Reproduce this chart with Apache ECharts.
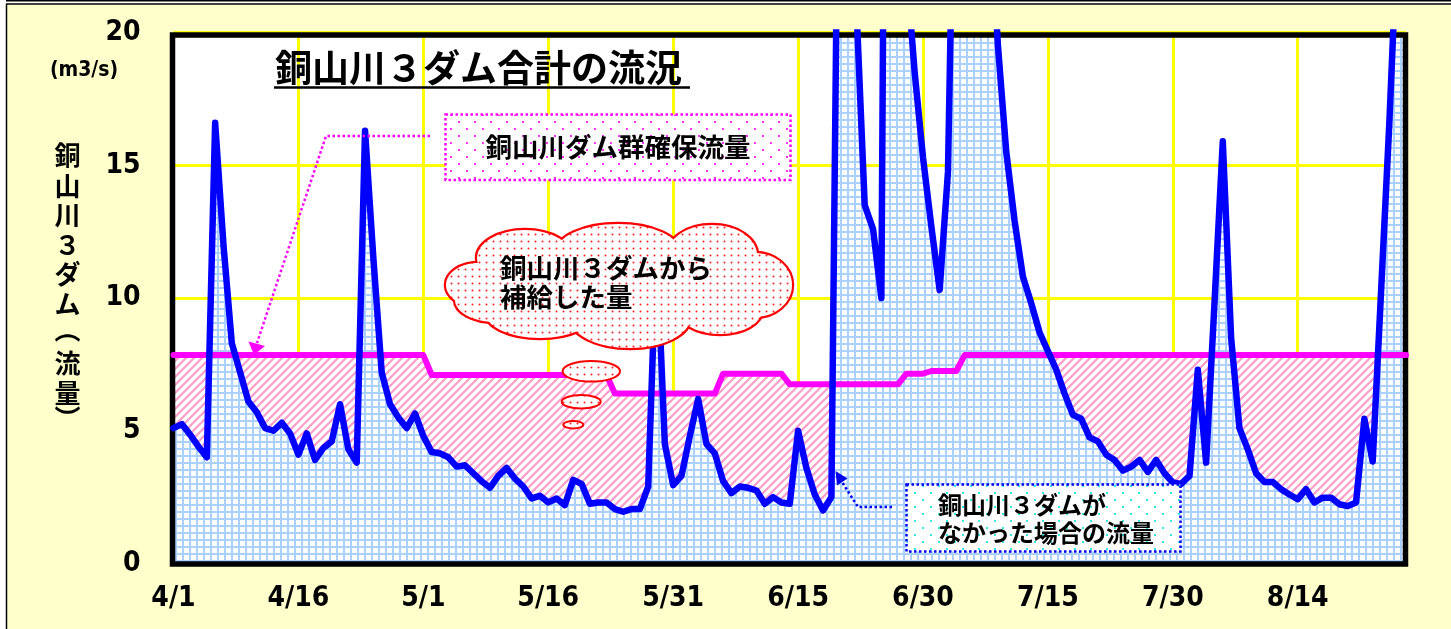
<!DOCTYPE html>
<html><head><meta charset="utf-8">
<script src="https://cdn.jsdelivr.net/npm/echarts@6/dist/echarts.min.js"></script>
<style>html,body{margin:0;padding:0;background:#fff}#c{width:1451px;height:629px}</style>
</head><body><div id="c"></div>
<script>
// ---- data ----
const monthDays = [[4, 30], [5, 31], [6, 30], [7, 31], [8, 27]];
const categories = [];
for (const [m, n] of monthDays) for (let d = 1; d <= n; d++) categories.push(m + '/' + d);
const tickLabels = ['4/1', '4/16', '5/1', '5/16', '5/31', '6/15', '6/30', '7/15', '7/30', '8/14'];
const yTicks = [0, 5, 10, 15, 20];

// 銅山川３ダムがなかった場合の流量 (m3/s), daily 4/1 - 8/27
const flowWithoutDams = [
  5.1, 5.25, 4.85, 4.4, 4.0, 16.6, 12.0, 8.3, 7.2, 6.1,
  5.7, 5.1, 5.0, 5.3, 4.9, 4.1, 4.9, 3.9, 4.35, 4.6,
  6.0, 4.3, 3.8, 16.3, 11.5, 7.2, 6.0, 5.5, 5.1, 5.65,
  4.8, 4.2, 4.15, 4.0, 3.65, 3.7, 3.4, 3.1, 2.85, 3.3,
  3.6, 3.2, 2.9, 2.45, 2.55, 2.3, 2.45, 2.2, 3.15, 3.0,
  2.25, 2.3, 2.3, 2.05, 1.95, 2.05, 2.05, 2.9, 12.0, 4.5,
  2.95, 3.3, 4.8, 6.2, 4.5, 4.15, 3.1, 2.65, 2.9, 2.85,
  2.75, 2.25, 2.5, 2.3, 2.25, 5.0, 3.6, 2.6, 2.0, 2.5,
  33, 35, 21, 13.5, 12.6, 10.0, 60, 40, 22.5, 18.5,
  15.3, 12.7, 10.3, 14.75, 32, 40, 40, 35, 25, 19.5,
  15.5, 12.9, 10.8, 9.8, 8.7, 8.0, 7.3, 6.4, 5.6, 5.45,
  4.75, 4.6, 4.1, 3.9, 3.5, 3.65, 3.9, 3.45, 3.9, 3.4,
  3.05, 3.0, 3.3, 7.3, 3.8, 9.8, 15.9, 8.5, 5.1, 4.3,
  3.4, 3.07, 3.07, 2.8, 2.6, 2.42, 2.8, 2.3, 2.48, 2.48,
  2.23, 2.16, 2.3, 5.45, 3.84, 10.2, 16.6, 24, 26
];
// 銅山川ダム群確保流量 (m3/s)
const securedFlow = [
  7.85, 7.85, 7.85, 7.85, 7.85, 7.85, 7.85, 7.85, 7.85, 7.85,
  7.85, 7.85, 7.85, 7.85, 7.85, 7.85, 7.85, 7.85, 7.85, 7.85,
  7.85, 7.85, 7.85, 7.85, 7.85, 7.85, 7.85, 7.85, 7.85, 7.85,
  7.85, 7.1, 7.1, 7.1, 7.1, 7.1, 7.1, 7.1, 7.1, 7.1,
  7.1, 7.1, 7.1, 7.1, 7.1, 7.1, 7.1, 7.1, 7.1, 7.1,
  7.1, 7.1, 7.1, 6.4, 6.4, 6.4, 6.4, 6.4, 6.4, 6.4,
  6.4, 6.4, 6.4, 6.4, 6.4, 6.4, 7.15, 7.15, 7.15, 7.15,
  7.15, 7.15, 7.15, 7.15, 6.75, 6.75, 6.75, 6.75, 6.75, 6.75,
  6.75, 6.75, 6.75, 6.75, 6.75, 6.75, 6.75, 6.75, 7.15, 7.15,
  7.15, 7.25, 7.25, 7.25, 7.25, 7.85, 7.85, 7.85, 7.85, 7.85,
  7.85, 7.85, 7.85, 7.85, 7.85, 7.85, 7.85, 7.85, 7.85, 7.85,
  7.85, 7.85, 7.85, 7.85, 7.85, 7.85, 7.85, 7.85, 7.85, 7.85,
  7.85, 7.85, 7.85, 7.85, 7.85, 7.85, 7.85, 7.85, 7.85, 7.85,
  7.85, 7.85, 7.85, 7.85, 7.85, 7.85, 7.85, 7.85, 7.85, 7.85,
  7.85, 7.85, 7.85, 7.85, 7.85, 7.85, 7.85, 7.85, 7.85
];
const titleText = '銅山川３ダム合計の流況';
const unitText = '(m3/s)';
const yNameChars = ['銅', '山', '川', '３', 'ダ', 'ム', '（', '流', '量', '）'];
const labelSecured = '銅山川ダム群確保流量';
const labelSupply = ['銅山川３ダムから', '補給した量'];
const labelNoDam = ['銅山川３ダムが', 'なかった場合の流量'];

// ---- patterns ----
function tile(w, h, draw) {
  const c = document.createElement('canvas'); c.width = w; c.height = h;
  const g = c.getContext('2d'); draw(g, w, h); return { image: c, repeat: 'repeat' };
}
const blueGrid = tile(7, 7, (g) => {
  g.fillStyle = '#fff'; g.fillRect(0, 0, 7, 7);
  g.fillStyle = '#aad0ff'; g.fillRect(0, 0, 7, 2); g.fillRect(0, 0, 2, 7);
});
const pinkHatch = tile(8, 8, (g) => {
  g.fillStyle = '#fff'; g.fillRect(0, 0, 8, 8);
  g.strokeStyle = '#ff9cc8'; g.lineWidth = 2.2;
  for (const c of [0, 8, 16]) { g.beginPath(); g.moveTo(c + 1, -1); g.lineTo(-1, c + 1); g.stroke(); }
});
function dots(w, h, color, pts, r) {
  return tile(w, h, (g) => {
    g.fillStyle = '#fff'; g.fillRect(0, 0, w, h);
    g.fillStyle = color;
    for (const [x, y] of pts) { g.beginPath(); g.arc(x, y, r, 0, Math.PI * 2); g.fill(); }
  });
}
const redDots = dots(7, 7, '#ff2020', [[3.5, 3.5]], 1.0);
const magDots = dots(16, 14, '#ff00ff', [[3, 3], [11, 10]], 1.1);
const cyanDots = dots(16, 14, '#00e0e0', [[3, 3], [11, 10]], 1.1);

const CJK = '"Noto Sans CJK JP", sans-serif';
const NUM = '"Liberation Sans Narrow", "DejaVu Sans Condensed", "Roboto Condensed", sans-serif';

function txt(text, x, y, size, align, z, extra) {
  return Object.assign({
    type: 'text', z: z || 30,
    style: { text, x, y, fill: '#000', font: 'bold ' + size + 'px ' + CJK,
      textAlign: align || 'left', textVerticalAlign: 'middle', align: align || 'left', verticalAlign: 'middle' }
  }, extra || {});
}
// glyph visual-centre offset relative to a centre/middle anchor
const measureCtx = document.createElement('canvas').getContext('2d');
function glyphOffset(ch, font) {
  measureCtx.font = font; measureCtx.textAlign = 'center'; measureCtx.textBaseline = 'middle';
  const m = measureCtx.measureText(ch);
  return [(m.actualBoundingBoxRight - m.actualBoundingBoxLeft) / 2, (m.actualBoundingBoxDescent - m.actualBoundingBoxAscent) / 2];
}

const graphics = [];
// outer frame
graphics.push({ type: 'rect', z: -10, silent: true, shape: { x: 0, y: 0, width: 1451, height: 5 }, style: { fill: '#fff' } });
graphics.push({ type: 'rect', z: -10, silent: true, shape: { x: 0, y: 0, width: 6, height: 629 }, style: { fill: '#fff' } });
graphics.push({ type: 'line', z: -9, shape: { x1: 6, y1: 0.8, x2: 1451, y2: 0.8 }, style: { stroke: '#000', lineWidth: 1.5 } });
graphics.push({ type: 'line', z: -9, shape: { x1: 6, y1: 4, x2: 1451, y2: 4 }, style: { stroke: '#000', lineWidth: 1.5 } });
graphics.push({ type: 'line', z: -9, shape: { x1: 6.5, y1: 4, x2: 6.5, y2: 629 }, style: { stroke: '#000', lineWidth: 1.5 } });
// plot border
graphics.push({ type: 'rect', z: 4, silent: true, shape: { x: 172.5, y: 35, width: 1233, height: 529 }, style: { fill: 'none', stroke: '#000', lineWidth: 5.5 } });
// title
graphics.push(txt(titleText, 275, 68, 37, 'left', 30));
graphics.push({ type: 'line', z: 30, shape: { x1: 274, y1: 87.5, x2: 690, y2: 87.5 }, style: { stroke: '#000', lineWidth: 2.5 } });
// unit + vertical axis name
graphics.push({ type: 'text', z: 30, style: { text: unitText, x: 84, y: 71, fill: '#000', font: 'bold 21px ' + NUM,
  textAlign: 'center', textVerticalAlign: 'middle', align: 'center', verticalAlign: 'middle' } });
const yNameY = [155, 186, 215, 245, 274, 304, 338, 363, 393, 410];
const yNameFont = 'bold 26px ' + CJK;
yNameChars.forEach((ch, k) => {
  const paren = ch === '（' || ch === '）';
  let px = 67.5, py = yNameY[k];
  if (paren) {
    const [dx, dy] = glyphOffset(ch, yNameFont);
    // clockwise quarter turn maps (dx, dy) -> (-dy, dx)
    px = 67.5 + dy; py = yNameY[k] - dx;
  }
  graphics.push({ type: 'text', z: 30, x: px, y: py, rotation: paren ? -Math.PI / 2 : 0,
    style: { text: ch, x: 0, y: 0, fill: '#000', font: yNameFont,
      textAlign: 'center', textVerticalAlign: 'middle', align: 'center', verticalAlign: 'middle' } });
});
// secured-flow label box + arrow
graphics.push({ type: 'rect', z: 25, shape: { x: 445.5, y: 114.5, width: 345, height: 65.5 },
  style: { fill: magDots, stroke: '#ff00ff', lineWidth: 2.5, lineDash: [2.5, 2.5] } });
graphics.push(txt(labelSecured, 618, 147, 26.5, 'center', 30));
graphics.push({ type: 'polyline', z: 25, shape: { points: [[430, 136], [326, 136], [257, 343]] },
  style: { fill: 'none', stroke: '#ff00ff', lineWidth: 2.5, lineDash: [2.5, 2.5] } });
graphics.push({ type: 'polygon', z: 25, shape: { points: [[248.5, 341.5], [265, 346], [254, 355]] }, style: { fill: '#ff00ff' } });
// cloud callout
const cloud = [[478, 285, 32, 22], [525, 258, 48, 28], [618, 252, 62, 28], [712, 255, 45, 30], [755, 285, 37, 32],
  [720, 310, 42, 24], [630, 318, 60, 30], [540, 312, 55, 26], [495, 300, 40, 22]];
cloud.forEach(([cx, cy, rx, ry]) => graphics.push({ type: 'ellipse', z: 20, shape: { cx, cy, rx, ry }, style: { fill: 'none', stroke: '#ff0000', lineWidth: 4.5 } }));
cloud.forEach(([cx, cy, rx, ry]) => graphics.push({ type: 'ellipse', z: 21, shape: { cx, cy, rx, ry }, style: { fill: redDots } }));
graphics.push({ type: 'ellipse', z: 21, shape: { cx: 620, cy: 285, rx: 130, ry: 38 }, style: { fill: redDots } });
[[591.3, 371.3, 28.7, 10.3], [581.2, 401.7, 19.5, 6.7], [573.3, 424.7, 10, 3.7]].forEach(([cx, cy, rx, ry]) =>
  graphics.push({ type: 'ellipse', z: 21, shape: { cx, cy, rx, ry }, style: { fill: redDots, stroke: '#ff0000', lineWidth: 2 } }));
graphics.push(txt(labelSupply[0], 500, 268, 26.5, 'left', 30));
graphics.push(txt(labelSupply[1], 500, 297, 26.5, 'left', 30));
// no-dam label box + arrow
graphics.push({ type: 'rect', z: 25, shape: { x: 906.5, y: 484.5, width: 274, height: 67 },
  style: { fill: cyanDots, stroke: '#0000ee', lineWidth: 2.5, lineDash: [2.5, 2.5] } });
graphics.push(txt(labelNoDam[0], 938, 504.5, 24, 'left', 30));
graphics.push(txt(labelNoDam[1], 938, 533, 24, 'left', 30));
graphics.push({ type: 'polyline', z: 25, shape: { points: [[892, 507], [858, 507], [842, 482]] },
  style: { fill: 'none', stroke: '#0000ee', lineWidth: 2.5, lineDash: [2.5, 2.5] } });
graphics.push({ type: 'polygon', z: 25, shape: { points: [[835.5, 471], [847.5, 478.5], [837, 485.5]] }, style: { fill: '#0000ee' } });

const chart = echarts.init(document.getElementById('c'), null, { renderer: 'canvas', width: 1451, height: 629 });
chart.setOption({
  animation: false,
  backgroundColor: '#ffffcc',
  grid: { left: 173.5, right: 45, top: 32.5, bottom: 65.5, show: true, backgroundColor: '#fff', borderWidth: 0 },
  xAxis: {
    type: 'category', data: categories, boundaryGap: false,
    axisLine: { show: false }, axisTick: { show: false },
    axisLabel: { interval: 14, margin: 21, color: '#000', fontSize: 28, fontWeight: 'bold', fontFamily: NUM,
      formatter: (v) => (tickLabels.includes(v) ? v : '') },
    splitLine: { show: true, interval: 14, lineStyle: { color: '#ffff00', width: 3 } }
  },
  yAxis: {
    type: 'value', min: yTicks[0], max: yTicks[yTicks.length - 1], interval: 5,
    axisLine: { show: false }, axisTick: { show: false },
    axisLabel: { margin: 33, color: '#000', fontSize: 28, fontWeight: 'bold', fontFamily: NUM },
    splitLine: { show: true, lineStyle: { color: '#ffff00', width: 3 } }
  },
  series: [
    { name: '補給量', type: 'line', data: securedFlow, z: 2, symbol: 'none', silent: true,
      lineStyle: { width: 0, opacity: 0 }, areaStyle: { color: pinkHatch, opacity: 1 } },
    { name: '流量面', type: 'line', data: flowWithoutDams, z: 3, symbol: 'none', silent: true,
      lineStyle: { width: 0, opacity: 0 }, areaStyle: { color: blueGrid, opacity: 1 } },
    { name: '銅山川ダム群確保流量', type: 'line', data: securedFlow, z: 5, symbol: 'none', silent: true,
      lineStyle: { color: '#ff00ff', width: 6, join: 'round', cap: 'round' } },
    { name: '銅山川３ダムがなかった場合の流量', type: 'line', data: flowWithoutDams, z: 6, symbol: 'none', silent: true,
      lineStyle: { color: '#0000ff', width: 6.5, join: 'round', cap: 'round' } }
  ],
  graphic: { elements: graphics }
});
</script></body></html>
